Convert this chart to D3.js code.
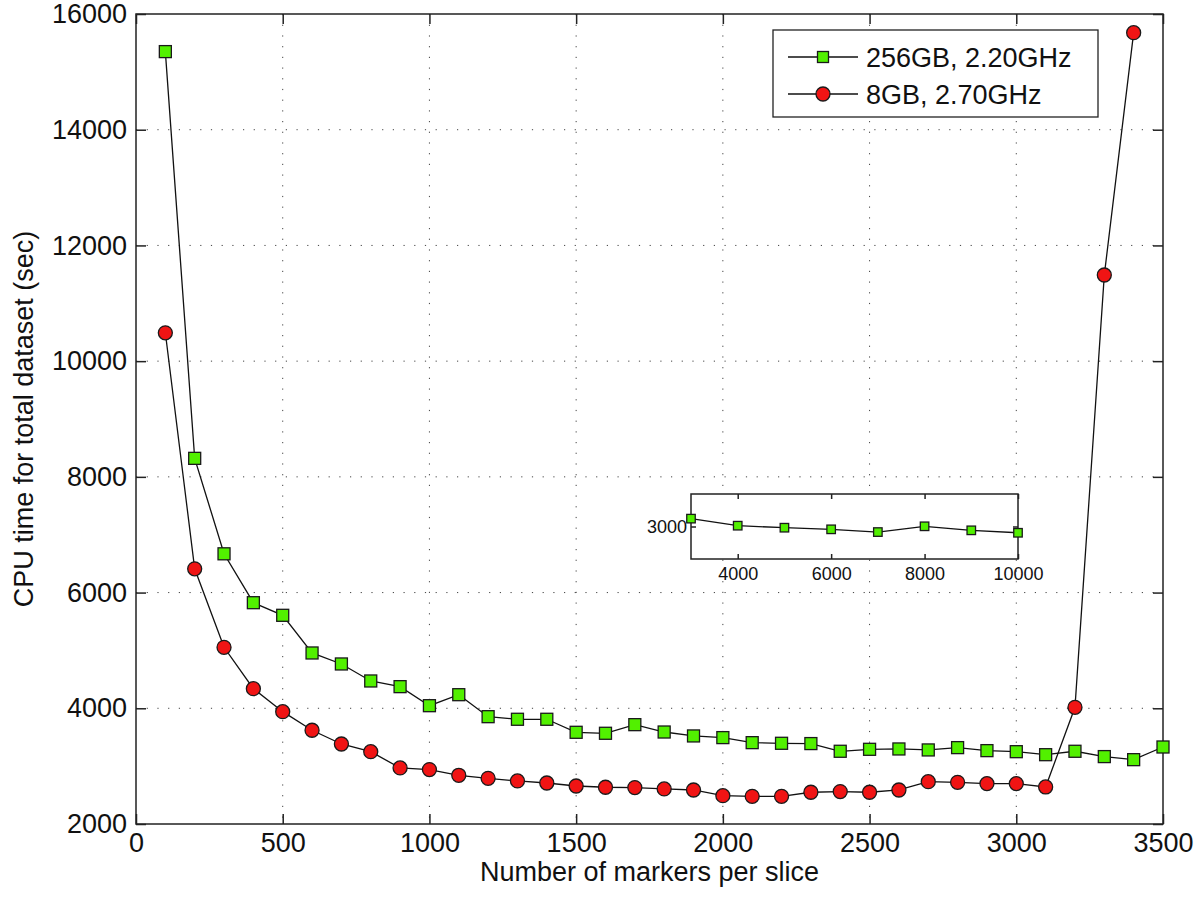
<!DOCTYPE html>
<html>
<head>
<meta charset="utf-8">
<script src="https://cdn.jsdelivr.net/npm/d3@7"></script>
<style>
  body { margin: 0; background: #fff; }
  text { font-family: 'Liberation Sans', Arial, Helvetica, sans-serif; fill: #111; }
</style>
</head>
<body>
<svg id="chart" width="1200" height="897"></svg>
<script>
// markers per slice (x)
const markers = [100, 200, 300, 400, 500, 600, 700, 800, 900, 1000, 1100, 1200, 1300, 1400, 1500, 1600, 1700,
  1800, 1900, 2000, 2100, 2200, 2300, 2400, 2500, 2600, 2700, 2800, 2900, 3000, 3100, 3200, 3300, 3400, 3500];

// CPU time (sec), 256GB / 2.20GHz machine
const time256 = [15350, 8320, 6670, 5825, 5607, 4956, 4766, 4472, 4374, 4045, 4235, 3855, 3810, 3810, 3585, 3568,
  3717, 3590, 3522, 3493, 3406, 3395, 3390, 3257, 3291, 3297, 3280, 3320, 3268, 3250, 3198, 3257, 3165, 3112, 3331];

// CPU time (sec), 8GB / 2.70GHz machine (stops at 3400)
const time8 = [10490, 6410, 5054, 4339, 3942, 3620, 3383, 3250, 2969, 2940, 2842, 2790, 2744, 2709, 2657, 2635,
  2630, 2606, 2588, 2490, 2479, 2479, 2549, 2560, 2549, 2588, 2732, 2721, 2698, 2698, 2640, 4017, 11489, 15677];

// inset: larger slices for the 256GB machine
const insetMarkers = [3000, 4000, 5000, 6000, 7000, 8000, 9000, 10000];
const insetTime = [3242, 3025, 2963, 2913, 2829, 3006, 2882, 2807];

const xTicks = [0, 500, 1000, 1500, 2000, 2500, 3000, 3500];
const yTicks = [2000, 4000, 6000, 8000, 10000, 12000, 14000, 16000];
const insetXTicks = [4000, 6000, 8000, 10000];
const insetYTicks = [3000];

const seriesNames = ['256GB, 2.20GHz', '8GB, 2.70GHz'];

const GREEN = '#52f000';
const RED = '#f01414';
const EDGE = '#1a1a1a';
const FONT = 27;
const fmt = d3.format('d');

const svg = d3.select('#chart');
const plot = { left: 136, right: 1163, top: 14, bottom: 824 };

const x = d3.scaleLinear().domain([0, 3500]).range([plot.left, plot.right]);
const y = d3.scaleLinear().domain([2000, 16000]).range([plot.bottom, plot.top]);

// dotted grid
const grid = svg.append('g').attr('class', 'grid');
grid.selectAll('line.gx')
  .data(xTicks.slice(1, -1))
  .join('line')
  .attr('x1', d => x(d)).attr('x2', d => x(d))
  .attr('y1', plot.top).attr('y2', plot.bottom)
  .attr('stroke', '#444').attr('stroke-width', 1).attr('stroke-dasharray', '1.2,9.5');
grid.selectAll('line.gy')
  .data(yTicks.slice(1, -1))
  .join('line')
  .attr('x1', plot.left).attr('x2', plot.right)
  .attr('y1', d => y(d)).attr('y2', d => y(d))
  .attr('stroke', '#444').attr('stroke-width', 1).attr('stroke-dasharray', '1.2,9.5');

// axes: matlab style, ticks inside on all four sides
function boxAxes(g, xs, ys, xt, yt, tickLen, fontSize, xLabelPad, yLabelPad) {
  const [x0, x1] = xs.range();
  const [y0, y1] = ys.range();
  g.append('rect')
    .attr('x', x0).attr('y', y1)
    .attr('width', x1 - x0).attr('height', y0 - y1)
    .attr('fill', 'none').attr('stroke', '#222').attr('stroke-width', 1.5);

  g.append('g')
    .attr('transform', `translate(0,${y0})`)
    .call(d3.axisBottom(xs).tickValues(xt).tickFormat(fmt).tickSizeInner(-tickLen).tickSizeOuter(0).tickPadding(xLabelPad))
    .call(a => a.select('.domain').remove())
    .call(a => a.selectAll('line').attr('stroke', '#222').attr('stroke-width', 1.5))
    .call(a => a.selectAll('text').attr('font-size', fontSize).attr('fill', '#111'));
  g.append('g')
    .attr('transform', `translate(0,${y1})`)
    .call(d3.axisTop(xs).tickValues(xt).tickSizeInner(-tickLen).tickSizeOuter(0).tickFormat(''))
    .call(a => a.select('.domain').remove())
    .call(a => a.selectAll('line').attr('stroke', '#222').attr('stroke-width', 1.5));
  g.append('g')
    .attr('transform', `translate(${x0},0)`)
    .call(d3.axisLeft(ys).tickValues(yt).tickFormat(fmt).tickSizeInner(-tickLen).tickSizeOuter(0).tickPadding(yLabelPad))
    .call(a => a.select('.domain').remove())
    .call(a => a.selectAll('line').attr('stroke', '#222').attr('stroke-width', 1.5))
    .call(a => a.selectAll('text').attr('font-size', fontSize).attr('fill', '#111'));
  g.append('g')
    .attr('transform', `translate(${x1},0)`)
    .call(d3.axisRight(ys).tickValues(yt).tickSizeInner(-tickLen).tickSizeOuter(0).tickFormat(''))
    .call(a => a.select('.domain').remove())
    .call(a => a.selectAll('line').attr('stroke', '#222').attr('stroke-width', 1.5));
}

const axes = svg.append('g').attr('class', 'axes');
boxAxes(axes, x, y, xTicks, yTicks, 10, FONT, 9, 9);

// axis titles
svg.append('text')
  .attr('x', (plot.left + plot.right) / 2)
  .attr('y', 881)
  .attr('text-anchor', 'middle')
  .attr('font-size', FONT)
  .text('Number of markers per slice');
svg.append('text')
  .attr('transform', `translate(33,${(plot.top + plot.bottom) / 2}) rotate(-90)`)
  .attr('text-anchor', 'middle')
  .attr('font-size', FONT)
  .text('CPU time for total dataset (sec)');

const line = d3.line();

function drawSeries(g, xs, ys, xv, yv, kind, size) {
  const pts = yv.map((v, i) => [xs(xv[i]), ys(v)]);
  g.append('path')
    .attr('d', line(pts))
    .attr('fill', 'none').attr('stroke', '#111').attr('stroke-width', 1.3);
  if (kind === 'square') {
    g.selectAll('rect.mk')
      .data(pts)
      .join('rect')
      .attr('class', 'mk')
      .attr('x', d => d[0] - size / 2).attr('y', d => d[1] - size / 2)
      .attr('width', size).attr('height', size)
      .attr('fill', GREEN).attr('stroke', EDGE).attr('stroke-width', 1.3);
  } else {
    g.selectAll('circle.mk')
      .data(pts)
      .join('circle')
      .attr('class', 'mk')
      .attr('cx', d => d[0]).attr('cy', d => d[1])
      .attr('r', size / 2)
      .attr('fill', RED).attr('stroke', EDGE).attr('stroke-width', 1.3);
  }
}

const series = svg.append('g').attr('class', 'series');
drawSeries(series.append('g'), x, y, markers, time256, 'square', 12);
drawSeries(series.append('g'), x, y, markers, time8, 'circle', 14);

// legend
const legend = svg.append('g').attr('class', 'legend');
legend.append('rect')
  .attr('x', 773).attr('y', 30).attr('width', 325).attr('height', 87)
  .attr('fill', '#fff').attr('stroke', '#222').attr('stroke-width', 1.3);
const legRows = [
  { name: seriesNames[0], kind: 'square', cy: 57 },
  { name: seriesNames[1], kind: 'circle', cy: 94 }
];
legRows.forEach(r => {
  legend.append('line')
    .attr('x1', 788).attr('x2', 858).attr('y1', r.cy).attr('y2', r.cy)
    .attr('stroke', '#111').attr('stroke-width', 1.3);
  if (r.kind === 'square') {
    legend.append('rect')
      .attr('x', 823 - 5.5).attr('y', r.cy - 5.5).attr('width', 11).attr('height', 11)
      .attr('fill', GREEN).attr('stroke', EDGE).attr('stroke-width', 1.3);
  } else {
    legend.append('circle')
      .attr('cx', 823).attr('cy', r.cy).attr('r', 7)
      .attr('fill', RED).attr('stroke', EDGE).attr('stroke-width', 1.3);
  }
  legend.append('text')
    .attr('x', 866).attr('y', r.cy).attr('dy', '0.36em')
    .attr('font-size', FONT)
    .text(r.name);
});

// inset
const ix = d3.scaleLinear().domain([3000, 10000]).range([691, 1018]);
const iy = d3.scaleLinear().domain([2000, 4000]).range([559, 494]);
const inset = svg.append('g').attr('class', 'inset');
inset.append('rect')
  .attr('x', 691).attr('y', 494).attr('width', 327).attr('height', 65)
  .attr('fill', '#fff');
boxAxes(inset, ix, iy, insetXTicks, insetYTicks, 5, 18, 8, 4);
drawSeries(inset.append('g'), ix, iy, insetMarkers, insetTime, 'square', 8.5);
</script>
</body>
</html>
